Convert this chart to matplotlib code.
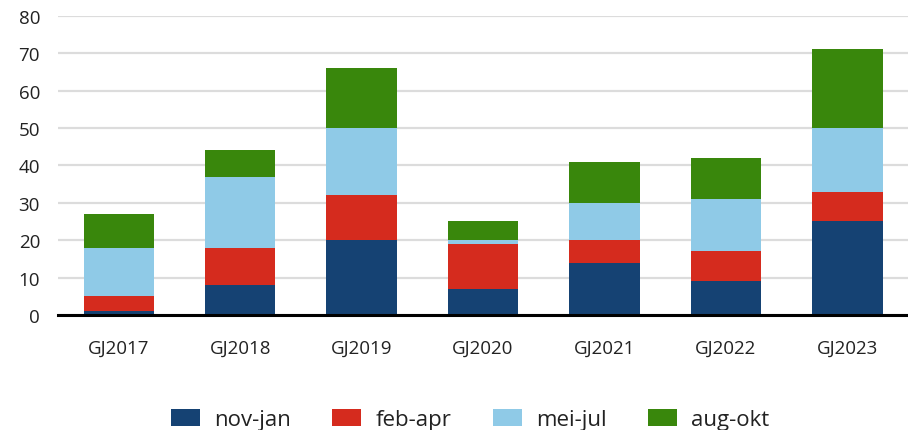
import numpy as np
import matplotlib.pyplot as plt

years = ['GJ2017', 'GJ2018', 'GJ2019', 'GJ2020', 'GJ2021', 'GJ2022', 'GJ2023']
nov_jan = [1, 8, 20, 7, 14, 9, 25]
feb_apr = [4, 10, 12, 12, 6, 8, 8]
mei_jul = [13, 19, 18, 1, 10, 14, 17]
aug_okt = [9, 7, 16, 5, 11, 11, 21]

series = [('nov-jan', nov_jan, '#154273'),
          ('feb-apr', feb_apr, '#d52b1e'),
          ('mei-jul', mei_jul, '#8fcae7'),
          ('aug-okt', aug_okt, '#39870c')]

plt.rcParams['font.family'] = ['Open Sans', 'DejaVu Sans']

fig = plt.figure(figsize=(9.08, 4.31), dpi=100)
ax = fig.add_axes([0.064, 0.267, 0.936, 0.694])

x = np.arange(len(years))
bottom = np.zeros(len(years))
for name, vals, color in series:
    ax.bar(x, vals, 0.58, bottom=bottom, color=color, label=name, zorder=3)
    bottom += np.array(vals)

ax.set_xlim(-0.5, len(years) - 0.5)
ax.set_ylim(0, 80)
ax.set_yticks(range(0, 81, 10))
ax.set_xticks(x)
ax.set_xticklabels(years)
ax.grid(axis='y', color='#dcdcdc', linewidth=1.6, zorder=0)
ax.axhline(0, color='black', linewidth=2.2, zorder=4, clip_on=False)
for s in ax.spines.values():
    s.set_visible(False)
ax.tick_params(axis='both', length=0, labelsize=13.5, colors='#222222')
ax.tick_params(axis='x', pad=17)
ax.tick_params(axis='y', pad=13)

ax.legend(loc='center', bbox_to_anchor=(0.485, -0.35), ncol=4, frameon=False,
          fontsize=16, handlelength=1.3, handleheight=0.75, columnspacing=1.85,
          handletextpad=0.65, labelcolor='#222222')

fig.savefig('out.png', dpi=100)
